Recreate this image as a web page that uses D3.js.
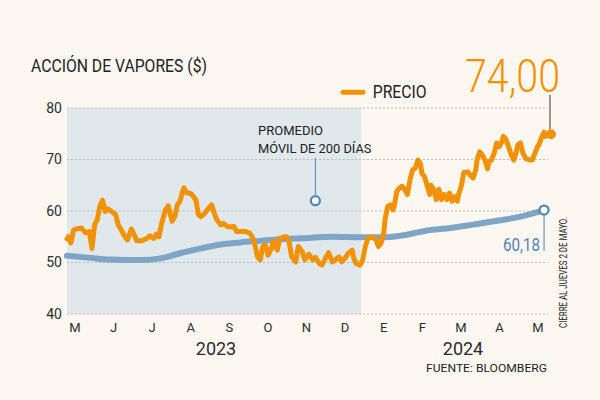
<!DOCTYPE html>
<html>
<head>
<meta charset="utf-8">
<script src="https://cdn.jsdelivr.net/npm/d3@7"></script>
<style>
	body { margin:0; background:#fdf7f1; }
	svg { display:block; font-family: Roboto, "Open Sans", sans-serif; }
</style>
</head>
<body>
<div id="chart"></div>
<script>

// day offsets from 2 May 2023, and closing price
var priceDays = [0,1,3,5,7,11,14,17,19,21,23,25,27,29,31,34,37,39,42,44,46,49,51,53,57,61,63,66,68,70,72,75,77,
	80,82,84,86,88,89,91,93,95,98,100,102,105,107,110,112,114,117,119,122,124,127,129,132,136,139,141,143,145,147,149,151,153,156,
	157,160,162,165,167,169,171,174,176,179,181,184,187,189,192,194,197,199,202,204,207,209,212,214,217,218,220,223,225,227,229,232,235,
	237,239,241,242,244,246,248,249,251,253,255,257,259,261,263,265,267,269,270,272,274,276,277,279,281,283,285,287,289,291,293,295,297,298,300,
	302,305,307,309,311,312,314,316,318,320,321,323,325,327,329,331,332,334,336,338,340,342,343,345,347,349,352,354,356,358,359,361,363,364,366]
var price = [54.6,55.0,53.8,56.3,56.5,56.7,55.8,56.0,52.7,57.3,58.3,60.9,62.1,59.9,60.4,59.9,59.3,57.3,56.0,55.0,54.4,56.5,55.5,54.2,54.2,54.7,55.2,54.7,55.5,55.0,57.6,60.3,61.0,
	58.0,58.9,61.2,61.9,63.8,64.5,63.5,63.5,63.2,62.2,59.3,58.9,59.6,60.3,61.2,59.6,58.3,57.3,57.6,57.0,56.9,57.0,56.0,56.0,56.0,55.7,55.0,53.4,51.1,50.5,53.1,53.4,51.4,53.0,
	54.2,52.4,54.7,55.0,55.0,54.0,51.1,50.1,53.1,52.1,50.5,51.6,50.5,51.0,49.8,49.5,51.0,51.9,50.1,50.5,51.1,50.1,51.0,51.8,52.4,51.0,49.8,49.5,50.5,53.1,54.7,55.0,54.5,
	53.1,53.8,55.7,58.3,60.9,61.2,60.2,61.0,63.8,64.5,64.8,64.2,63.2,66.1,68.0,68.3,69.9,69.2,67.3,66.7,65.0,63.2,65.0,64.2,62.2,64.2,62.2,63.2,62.2,63.5,61.9,62.8,61.9,63.2,64.8,
	67.5,67.6,66.9,66.4,67.9,69.9,71.5,70.9,69.9,68.2,69.5,69.9,71.2,73.2,72.5,73.5,74.5,73.9,72.5,70.9,69.9,71.5,72.8,73.2,71.2,70.2,69.9,69.9,71.2,72.5,72.8,74.2,75.3,74.5,74.9]

// 200 day moving average
var maDays = [0,18,33,56,71,86,101,117,132,147,162,178,203,223,239,254,274,292,310,330,345,363]
var ma = [51.3,50.9,50.6,50.5,50.8,51.8,52.7,53.5,53.9,54.2,54.5,54.7,55.0,54.9,54.9,55.2,56.2,56.7,57.4,58.2,58.9,60.18]

var months = ['M','J','J','A','S','O','N','D','E','F','M','A','M']
var years = [{label:'2023', x:216}, {label:'2024', x:463}]
var yTicks = [40,50,60,70,80]
var shadeEndDay = 224

var W = 600, H = 400
var start = new Date(2023, 4, 2)
var day = function(d){ return d3.timeDay.offset(start, d) }

var x = d3.scaleTime().domain([start, day(366)]).range([67, 548])
var y = d3.scaleLinear().domain([40, 80]).range([314, 108])
var monthX = d3.scalePoint().domain(d3.range(months.length)).range([74.5, 537.5])

var ORANGE = '#f39200'
var BLUE = '#7ea5c6'
var BLUE_DARK = '#4f86b2'

var svg = d3.select('#chart').append('svg')
	.attr('width', W).attr('height', H)

svg.append('rect').attr('width', W).attr('height', H).attr('fill', '#fdf7f1')

svg.append('rect')
	.attr('x', x(start))
	.attr('y', y(80))
	.attr('width', x(day(shadeEndDay)) - x(start))
	.attr('height', y(40) - y(80))
	.attr('fill', '#e1e8ec')

// grid
svg.append('g').selectAll('line')
	.data(yTicks).enter().append('line')
	.attr('x1', x(start)).attr('x2', 548)
	.attr('y1', function(d){ return y(d) }).attr('y2', function(d){ return y(d) })
	.attr('stroke', '#b9b9b9').attr('stroke-width', 1).attr('stroke-dasharray', '2,2')

var yAxis = svg.append('g')
	.attr('transform', 'translate(62,0)')
	.call(d3.axisLeft(y).tickValues(yTicks).tickSize(0).tickPadding(0))
yAxis.select('.domain').remove()
yAxis.selectAll('text').attr('font-size', 14).attr('fill', '#2b2b2b').attr('font-family', 'Roboto')

var xAxis = svg.append('g')
	.attr('transform', 'translate(0,322)')
	.call(d3.axisBottom(monthX).tickSize(0).tickPadding(0).tickFormat(function(i){ return months[i] }))
xAxis.select('.domain').remove()
xAxis.selectAll('text').attr('font-size', 13).attr('fill', '#2b2b2b').attr('font-family', 'Roboto').attr('dy', '0.8em')

svg.append('g').selectAll('text')
	.data(years).enter().append('text')
	.attr('x', function(d){ return d.x }).attr('y', 354.5)
	.attr('text-anchor', 'middle')
	.attr('font-size', 18).attr('fill', '#2b2b2b')
	.text(function(d){ return d.label })

// lines
var maLine = d3.line()
	.x(function(d, i){ return x(day(maDays[i])) })
	.y(function(d){ return y(d) })
	.curve(d3.curveMonotoneX)

svg.append('path')
	.datum(ma)
	.attr('d', maLine)
	.attr('fill', 'none').attr('stroke', BLUE).attr('stroke-width', 6).attr('stroke-linecap', 'round')

var priceLine = d3.line()
	.x(function(d, i){ return x(day(priceDays[i])) })
	.y(function(d){ return y(d) })

svg.append('path')
	.datum(price)
	.attr('d', priceLine)
	.attr('fill', 'none').attr('stroke', ORANGE).attr('stroke-width', 5)
	.attr('stroke-linejoin', 'round').attr('stroke-linecap', 'round')

// last price
var lastX = x(day(priceDays[priceDays.length-1]))
var lastY = y(price[price.length-1])
svg.append('line')
	.attr('x1', lastX + 2).attr('x2', lastX + 2)
	.attr('y1', 95).attr('y2', lastY - 5)
	.attr('stroke', '#555').attr('stroke-width', 1.2)
svg.append('circle')
	.attr('cx', lastX + 3).attr('cy', lastY).attr('r', 5)
	.attr('fill', ORANGE)
svg.append('text')
	.attr('x', 465).attr('y', 91.7)
	.attr('font-size', 46).attr('font-weight', 300).attr('fill', ORANGE)
	.attr('textLength', 95).attr('lengthAdjust', 'spacingAndGlyphs')
	.text('74,00')

// last moving average
var maX = x(day(maDays[maDays.length-1]))
var maY = y(ma[ma.length-1])
svg.append('line')
	.attr('x1', maX).attr('x2', maX)
	.attr('y1', maY + 4).attr('y2', 251)
	.attr('stroke', BLUE_DARK).attr('stroke-width', 1)
svg.append('circle')
	.attr('cx', maX).attr('cy', maY).attr('r', 4.5)
	.attr('fill', '#fff').attr('stroke', BLUE_DARK).attr('stroke-width', 2.2)
svg.append('text')
	.attr('x', 503).attr('y', 250.5)
	.attr('font-size', 19).attr('fill', BLUE_DARK)
	.attr('textLength', 37).attr('lengthAdjust', 'spacingAndGlyphs')
	.text('60,18')

// promedio note
var noteX = x(day(189)), noteY = y(62)
svg.append('line')
	.attr('x1', noteX).attr('x2', noteX)
	.attr('y1', 158).attr('y2', noteY - 4)
	.attr('stroke', BLUE_DARK).attr('stroke-width', 1)
svg.append('circle')
	.attr('cx', noteX).attr('cy', noteY).attr('r', 4.5)
	.attr('fill', '#fff').attr('stroke', BLUE_DARK).attr('stroke-width', 2.2)
svg.append('text')
	.attr('x', 258).attr('y', 135)
	.attr('font-size', 13).attr('fill', '#222')
	.attr('textLength', 65).attr('lengthAdjust', 'spacingAndGlyphs')
	.text('PROMEDIO')
svg.append('text')
	.attr('x', 258).attr('y', 152.7)
	.attr('font-size', 13).attr('fill', '#222')
	.attr('textLength', 113.5).attr('lengthAdjust', 'spacingAndGlyphs')
	.text('MÓVIL DE 200 DÍAS')

// title + legend
svg.append('text')
	.attr('x', 31).attr('y', 72)
	.attr('font-size', 18).attr('fill', '#222')
	.attr('textLength', 176).attr('lengthAdjust', 'spacingAndGlyphs')
	.text('ACCIÓN DE VAPORES ($)')

svg.append('line')
	.attr('x1', 343).attr('x2', 363).attr('y1', 92.3).attr('y2', 92.3)
	.attr('stroke', ORANGE).attr('stroke-width', 5).attr('stroke-linecap', 'round')
svg.append('text')
	.attr('x', 372.7).attr('y', 98.3)
	.attr('font-size', 18).attr('fill', '#222')
	.attr('textLength', 54).attr('lengthAdjust', 'spacingAndGlyphs')
	.text('PRECIO')

svg.append('text')
	.attr('transform', 'translate(567,328) rotate(-90)')
	.attr('font-size', 10).attr('fill', '#222')
	.attr('textLength', 111).attr('lengthAdjust', 'spacingAndGlyphs')
	.text('CIERRE AL JUEVES 2 DE MAYO.')

svg.append('text')
	.attr('x', 426).attr('y', 372)
	.attr('font-size', 11.5).attr('fill', '#222')
	.attr('textLength', 121).attr('lengthAdjust', 'spacingAndGlyphs')
	.text('FUENTE: BLOOMBERG')

</script>
</body>
</html>
